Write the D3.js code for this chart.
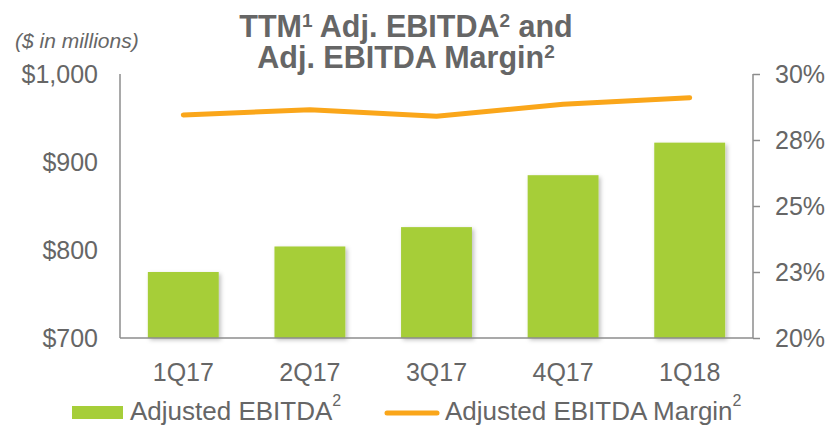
<!DOCTYPE html>
<html lang="en">
    <head>
        <meta charset="utf-8">
        <title>TTM Adj. EBITDA and Margin</title>
        <script src="https://d3js.org/d3.v7.min.js"></script>
        <style type="text/css">
            body { margin: 0; background: #fff; }
            .axis text { font-family: "Liberation Sans", Arial, sans-serif; font-size: 25px; fill: #666; }
            .axis path, .axis line { stroke: #8c8c8c; stroke-width: 1.5; }
        </style>
    </head>
    <body>
        <script type="text/javascript">

            // data
            const quarters = ["1Q17", "2Q17", "3Q17", "4Q17", "1Q18"];
            const ebitda = [775, 804, 826, 885, 922];          // $ millions
            const margin = [28.45, 28.65, 28.4, 28.85, 29.1];   // %
            const leftTicks = [700, 800, 900, 1000];
            const rightTicks = [20, 22.5, 25, 27.5, 30];

            const svgW = 831, svgH = 426;
            const plotL = 120, plotR = 753, plotT = 74, plotB = 338;

            const svg = d3.select("body").append("svg")
                .attr("width", svgW).attr("height", svgH);

            const defs = svg.append("defs");
            const f = defs.append("filter").attr("id", "shadow")
                .attr("x", "-10%").attr("y", "-10%").attr("width", "130%").attr("height", "130%");
            f.append("feDropShadow").attr("dx", 2).attr("dy", 2).attr("stdDeviation", 2)
                .attr("flood-color", "#000").attr("flood-opacity", 0.25);

            const x = d3.scaleBand().domain(quarters).range([plotL, plotR]).paddingInner(0.44).paddingOuter(0.22);
            const yL = d3.scaleLinear().domain([700, 1000]).range([plotB, plotT]);
            const yR = d3.scaleLinear().domain([20, 30]).range([plotB, plotT]);

            // bars
            svg.selectAll("rect.bar").data(ebitda).enter().append("rect")
                .attr("class", "bar")
                .attr("x", (d, i) => x(quarters[i]))
                .attr("width", x.bandwidth())
                .attr("y", d => yL(d))
                .attr("height", d => plotB - yL(d))
                .attr("fill", "#a6ce39")
                .attr("filter", "url(#shadow)");

            // axes
            const leftAxis = d3.axisLeft(yL).tickValues(leftTicks).tickSize(0).tickPadding(22)
                .tickFormat(d => "$" + d3.format(",")(d));
            svg.append("g").attr("class", "axis").attr("transform", "translate(" + plotL + ",0)")
                .call(leftAxis).call(g => g.select(".domain").attr("d", "M0," + plotT + "V" + plotB));

            const rightAxis = d3.axisRight(yR).tickValues(rightTicks).tickSize(7).tickSizeOuter(0).tickPadding(15)
                .tickFormat(d => Math.round(d + 0.01) + "%");
            svg.append("g").attr("class", "axis").attr("transform", "translate(" + plotR + ",0)")
                .call(rightAxis).call(g => g.select(".domain").attr("d", "M0," + plotT + "V" + plotB));

            const bottomAxis = d3.axisBottom(x).tickSize(0).tickPadding(25);
            svg.append("g").attr("class", "axis").attr("transform", "translate(0," + plotB + ")")
                .call(bottomAxis).call(g => g.select(".domain").attr("d", "M" + plotL + ",0H" + plotR));

            // margin line
            const line = d3.line()
                .x((d, i) => x(quarters[i]) + x.bandwidth() / 2)
                .y(d => yR(d));
            svg.append("path").datum(margin)
                .attr("d", line)
                .attr("fill", "none")
                .attr("stroke", "#faa61a")
                .attr("stroke-width", 5)
                .attr("stroke-linecap", "round")
                .attr("stroke-linejoin", "round");

            // title
            const title = svg.append("text")
                .attr("text-anchor", "middle")
                .attr("font-family", "'Liberation Sans', Arial, sans-serif")
                .attr("font-weight", "bold")
                .attr("font-size", 30.5)
                .attr("fill", "#666");
            const t1 = title.append("tspan").attr("x", 406).attr("y", 37);
            t1.append("tspan").text("TTM");
            t1.append("tspan").attr("font-size", 19).attr("dy", -10).text("1");
            t1.append("tspan").attr("dy", 10).text(" Adj. EBITDA");
            t1.append("tspan").attr("font-size", 19).attr("dy", -10).text("2");
            t1.append("tspan").attr("dy", 10).text(" and");
            const t2 = title.append("tspan").attr("x", 406).attr("y", 68);
            t2.append("tspan").text("Adj. EBITDA Margin");
            t2.append("tspan").attr("font-size", 19).attr("dy", -10).text("2");

            svg.append("text")
                .attr("x", 15).attr("y", 48)
                .attr("font-family", "'Liberation Sans', Arial, sans-serif")
                .attr("font-style", "italic")
                .attr("font-size", 21)
                .attr("fill", "#666")
                .text("($ in millions)");

            // legend
            const legend = svg.append("g")
                .attr("font-family", "'Liberation Sans', Arial, sans-serif")
                .attr("font-size", 26)
                .attr("fill", "#666");
            legend.append("rect").attr("x", 72).attr("y", 406).attr("width", 51).attr("height", 13).attr("fill", "#a6ce39");
            const l1 = legend.append("text").attr("x", 130).attr("y", 420);
            l1.append("tspan").text("Adjusted EBITDA");
            l1.append("tspan").attr("font-size", 16).attr("dy", -14).text("2");
            legend.append("line").attr("x1", 387).attr("x2", 437).attr("y1", 413).attr("y2", 413)
                .attr("stroke", "#faa61a").attr("stroke-width", 5).attr("stroke-linecap", "round");
            const l2 = legend.append("text").attr("x", 445).attr("y", 420);
            l2.append("tspan").text("Adjusted EBITDA Margin");
            l2.append("tspan").attr("font-size", 16).attr("dy", -14).text("2");

        </script>
    </body>
</html>
